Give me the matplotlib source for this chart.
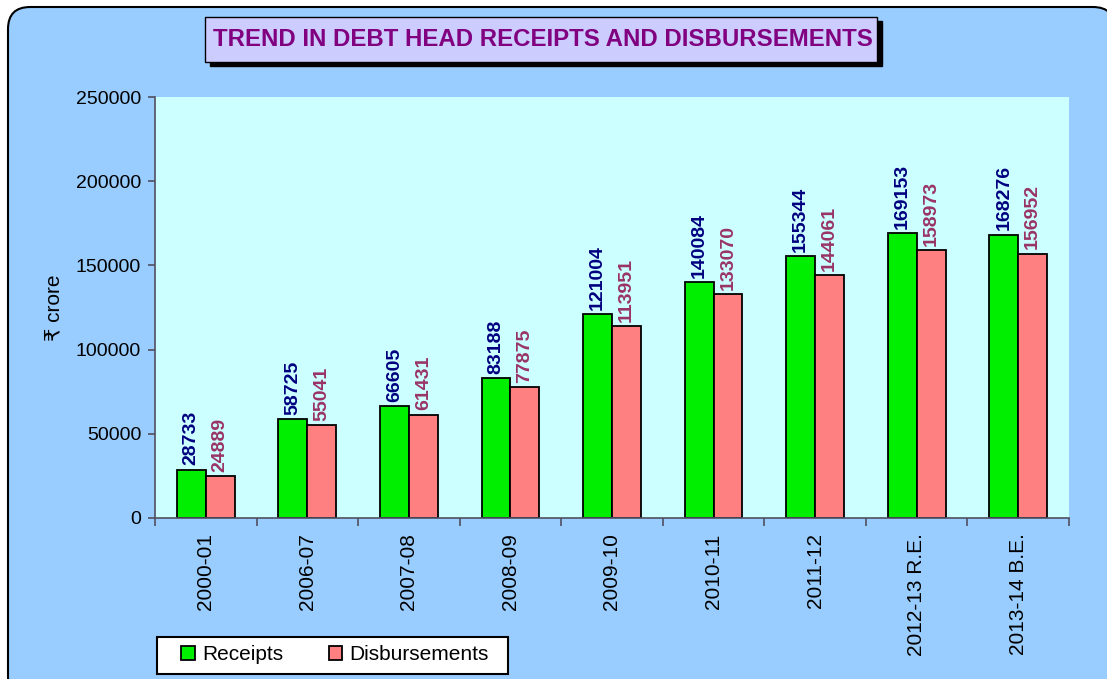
import numpy as np
import matplotlib.pyplot as plt
from matplotlib.patches import FancyBboxPatch, Rectangle

years = ['2000-01', '2006-07', '2007-08', '2008-09', '2009-10',
         '2010-11', '2011-12', '2012-13 R.E.', '2013-14 B.E.']
receipts = [28733, 58725, 66605, 83188, 121004, 140084, 155344, 169153, 168276]
disbursements = [24889, 55041, 61431, 77875, 113951, 133070, 144061, 158973, 156952]

plt.rcParams['font.family'] = ['Liberation Sans', 'DejaVu Sans']

W, H = 1107, 679
fig = plt.figure(figsize=(W / 100, H / 100), dpi=100)
fig.patch.set_facecolor('white')

# rounded light blue background panel
bg = FancyBboxPatch((8 / W, -20 / H), 1107 / W, 692 / H,
                    boxstyle='round,pad=0,rounding_size=0.02',
                    transform=fig.transFigure, facecolor='#99CCFF',
                    edgecolor='black', linewidth=1.5, zorder=-10,
                    mutation_aspect=W / H)
fig.patches.append(bg)

ax = fig.add_axes([155 / W, 161 / H, 914 / W, 421 / H])
ax.set_facecolor('#CCFFFF')

x = np.arange(len(years))
w = 0.285
ax.bar(x - w / 2, receipts, w, color='#00EE00', edgecolor='black', linewidth=1.3,
       label='Receipts')
ax.bar(x + w / 2, disbursements, w, color='#FF8080', edgecolor='black', linewidth=1.3,
       label='Disbursements')

for i in range(len(years)):
    ax.text(x[i] - w / 2, receipts[i] + 2500, str(receipts[i]), rotation=90,
            ha='center', va='bottom', fontsize=14, fontweight='bold', color='#000080')
    ax.text(x[i] + w / 2, disbursements[i] + 2500, str(disbursements[i]), rotation=90,
            ha='center', va='bottom', fontsize=14, fontweight='bold', color='#993366')

ax.set_xlim(-0.5, len(years) - 0.5)
ax.set_ylim(0, 250000)
ax.set_yticks(np.arange(0, 250001, 50000))
ax.tick_params(axis='y', labelsize=14, length=5, width=1.2, color='#505060', pad=5)

ax.set_xticks(x)
ax.set_xticklabels(years, rotation=90, fontsize=15)
ax.tick_params(axis='x', which='major', length=0, pad=11)
ax.set_xticks(np.arange(-0.5, len(years), 1), minor=True)
ax.tick_params(axis='x', which='minor', length=6, width=1.2, color='#505060')

for s in ['top', 'right']:
    ax.spines[s].set_visible(False)
for s in ['left', 'bottom']:
    ax.spines[s].set_color('#505060')
    ax.spines[s].set_linewidth(1.2)

ax.set_ylabel('₹ crore', fontsize=15, labelpad=9)

# title box with shadow
fig.patches.append(Rectangle((210 / W, (H - 66) / H), 672 / W, 45 / H,
                             transform=fig.transFigure, facecolor='black',
                             edgecolor='black', zorder=1))
fig.patches.append(Rectangle((205 / W, (H - 62) / H), 672 / W, 45 / H,
                             transform=fig.transFigure, facecolor='#CCCCFF',
                             edgecolor='black', linewidth=1, zorder=2))
fig.text(543 / W, (H - 40) / H, 'TREND IN DEBT HEAD RECEIPTS AND DISBURSEMENTS',
         ha='center', va='center', fontsize=17.3, fontweight='bold', color='#800080',
         zorder=3)

# legend box
fig.patches.append(Rectangle((157 / W, (H - 674) / H), 351 / W, 37 / H,
                             transform=fig.transFigure, facecolor='white',
                             edgecolor='black', linewidth=1.5, zorder=4))
leg = fig.legend(loc='center left', bbox_to_anchor=(181 / W, (H - 655) / H), ncol=2,
                 fontsize=15, frameon=False,
                 handlelength=0.65, handleheight=0.65, columnspacing=2.2,
                 handletextpad=0.35, borderpad=0, borderaxespad=0)
leg.set_zorder(5)

fig.savefig('out.png', dpi=100)
